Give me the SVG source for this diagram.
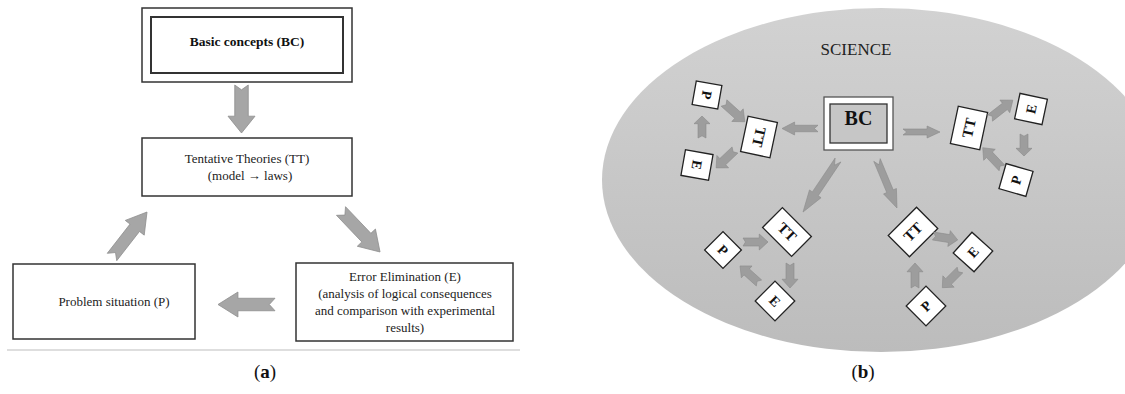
<svg xmlns="http://www.w3.org/2000/svg" width="1125" height="394" viewBox="0 0 1125 394">
<style>
.ta{font-family:"Liberation Serif","Times New Roman",serif;font-size:13px;fill:#222;text-anchor:middle}
.tb{font-family:"Liberation Serif","Times New Roman",serif;font-weight:bold;fill:#111;text-anchor:middle}
.box{fill:#fff;stroke:#333;stroke-width:1.5}
.sbox{fill:#fff;stroke:#222;stroke-width:1.3}
.arr{fill:#a6a6a6;stroke:#8e8e8e;stroke-width:0.8}
.arrb{fill:#9d9d9d;stroke:#8a8a8a;stroke-width:0.6}
.cap{font-family:"Liberation Serif","Times New Roman",serif;font-size:19px;fill:#111;text-anchor:middle}
</style>
<defs>
<path id="ar" d="M0,-5 L65,-5 L65,-10 L100,0 L65,10 L65,5 L0,5 L10,0 Z" vector-effect="non-scaling-stroke"/>
<linearGradient id="bg" x1="0" y1="0" x2="0" y2="1">
<stop offset="0" stop-color="#d2d2d2"/>
<stop offset="1" stop-color="#bcbcbc"/>
</linearGradient>
</defs>
<rect width="1125" height="394" fill="#fff"/>

<!-- Panel (a) -->
<g id="a-bc">
<rect class="box" x="142" y="8" width="210" height="74"/>
<rect x="151" y="17" width="192" height="56" fill="#fff" stroke="#333" stroke-width="2"/>
<text class="tb" x="247" y="46" font-size="13.5">Basic concepts (BC)</text>
</g>
<g id="a-tt">
<rect class="box" x="142" y="138" width="210" height="58"/>
<text class="ta" x="247" y="163">Tentative Theories (TT)</text>
<text class="ta" x="250" y="180">(model → laws)</text>
</g>
<g id="a-p">
<rect class="box" x="13" y="264" width="182" height="75"/>
<text class="ta" x="114" y="306">Problem situation (P)</text>
</g>
<g id="a-e">
<rect class="box" x="296" y="263" width="217" height="78"/>
<text class="ta" x="405" y="281">Error Elimination (E)</text>
<text class="ta" x="405" y="298">(analysis of logical consequences</text>
<text class="ta" x="405" y="315">and comparison with experimental</text>
<text class="ta" x="405" y="332">results)</text>
</g>
<g id="a-connectors">
<use href="#ar" class="arr" transform="translate(241.5,85) rotate(90) scale(0.48,1.35)"/>
<use href="#ar" class="arr" transform="translate(341,211) rotate(46.4) scale(0.566,1.25)"/>
<use href="#ar" class="arr" transform="translate(275,304.5) rotate(180) scale(0.57,1.25)"/>
<use href="#ar" class="arr" transform="translate(112,257) rotate(-52.1) scale(0.57,1.2)"/>
</g>
<line x1="7" y1="350" x2="520" y2="350" stroke="#bdbdbd" stroke-width="1"/>
<text class="cap" x="265" y="378">(<tspan font-weight="bold">a</tspan>)</text>

<!-- Panel (b) -->
<ellipse cx="881" cy="180" rx="279" ry="172" fill="url(#bg)"/>
<text x="856" y="55" font-family="'Liberation Serif','Times New Roman',serif" font-size="17" fill="#222" text-anchor="middle">SCIENCE</text>

<g id="b-bc">
<rect x="824" y="97" width="69" height="53" fill="#fff" stroke="#555" stroke-width="1.3"/>
<rect x="830" y="104" width="57" height="39" fill="#c6c6c6" stroke="#333" stroke-width="1.3"/>
<text class="tb" x="858.5" y="125" font-size="20">BC</text>
</g>

<!-- left cluster -->
<g id="b-l-tt" transform="translate(759,137) rotate(102)">
<rect class="sbox" x="-18" y="-15" width="36" height="30"/>
<text class="tb" y="5" font-size="15">TT</text>
</g>
<g id="b-l-p" transform="translate(707,95) rotate(100)">
<rect class="sbox" x="-12" y="-13" width="24" height="26"/>
<text class="tb" y="5" font-size="14">P</text>
</g>
<g id="b-l-e" transform="translate(697,165) rotate(100)">
<rect class="sbox" x="-13" y="-14" width="26" height="28"/>
<text class="tb" y="5" font-size="14">E</text>
</g>

<!-- right cluster -->
<g id="b-r-tt" transform="translate(969,128) rotate(-78)">
<rect class="sbox" x="-19" y="-15" width="38" height="30"/>
<text class="tb" y="5" font-size="15">TT</text>
</g>
<g id="b-r-e" transform="translate(1031,109) rotate(-78)">
<rect class="sbox" x="-13" y="-14" width="26" height="28"/>
<text class="tb" y="5" font-size="14">E</text>
</g>
<g id="b-r-p" transform="translate(1016,180) rotate(-74)">
<rect class="sbox" x="-13" y="-14" width="26" height="28"/>
<text class="tb" y="5" font-size="14">P</text>
</g>

<!-- bottom-left cluster -->
<g id="b-bl-tt" transform="translate(787,232) rotate(45)">
<rect class="sbox" x="-20.5" y="-14" width="41" height="28"/>
<text class="tb" y="5" font-size="15">TT</text>
</g>
<g id="b-bl-p" transform="translate(723,250) rotate(45)">
<rect class="sbox" x="-13" y="-13" width="26" height="26"/>
<text class="tb" y="5" font-size="14">P</text>
</g>
<g id="b-bl-e" transform="translate(775,301) rotate(45)">
<rect class="sbox" x="-14" y="-14" width="28" height="28"/>
<text class="tb" y="5" font-size="14">E</text>
</g>

<!-- bottom-right cluster -->
<g id="b-br-tt" transform="translate(913,232) rotate(-45)">
<rect class="sbox" x="-20" y="-15" width="40" height="30"/>
<text class="tb" y="5" font-size="15">TT</text>
</g>
<g id="b-br-e" transform="translate(973,252) rotate(-48)">
<rect class="sbox" x="-14" y="-14" width="28" height="28"/>
<text class="tb" y="5" font-size="14">E</text>
</g>
<g id="b-br-p" transform="translate(926,306) rotate(-45)">
<rect class="sbox" x="-14" y="-14" width="28" height="28"/>
<text class="tb" y="5" font-size="14">P</text>
</g>

<g id="b-connectors">
<use href="#ar" class="arrb" transform="translate(818,128.5) rotate(180) scale(0.36,0.65)"/>
<use href="#ar" class="arrb" transform="translate(903,132) scale(0.37,0.6)"/>
<use href="#ar" class="arrb" transform="translate(838,160) rotate(123.9) scale(0.627,0.7)"/>
<use href="#ar" class="arrb" transform="translate(877,160) rotate(67.4) scale(0.52,0.7)"/>
<!-- left cycle -->
<use href="#ar" class="arrb" transform="translate(724,103) rotate(42) scale(0.28,0.85)"/>
<use href="#ar" class="arrb" transform="translate(735,150) rotate(136.5) scale(0.26,0.85)"/>
<use href="#ar" class="arrb" transform="translate(702,138) rotate(-90) scale(0.22,0.8)"/>
<!-- right cycle -->
<use href="#ar" class="arrb" transform="translate(990,118) rotate(-38) scale(0.29,0.8)"/>
<use href="#ar" class="arrb" transform="translate(1024,134) rotate(90) scale(0.22,0.8)"/>
<use href="#ar" class="arrb" transform="translate(1002,168) rotate(-133.5) scale(0.28,0.8)"/>
<!-- bottom-left cycle -->
<use href="#ar" class="arrb" transform="translate(743,242) scale(0.25,0.8)"/>
<use href="#ar" class="arrb" transform="translate(790,263) rotate(90) scale(0.25,0.8)"/>
<use href="#ar" class="arrb" transform="translate(759,283) rotate(-138) scale(0.255,0.8)"/>
<!-- bottom-right cycle -->
<use href="#ar" class="arrb" transform="translate(933,236) rotate(9) scale(0.25,0.8)"/>
<use href="#ar" class="arrb" transform="translate(960,270) rotate(135) scale(0.25,0.8)"/>
<use href="#ar" class="arrb" transform="translate(915,288) rotate(-90) scale(0.25,0.8)"/>
</g>
<text class="cap" x="863" y="378">(<tspan font-weight="bold">b</tspan>)</text>
</svg>
